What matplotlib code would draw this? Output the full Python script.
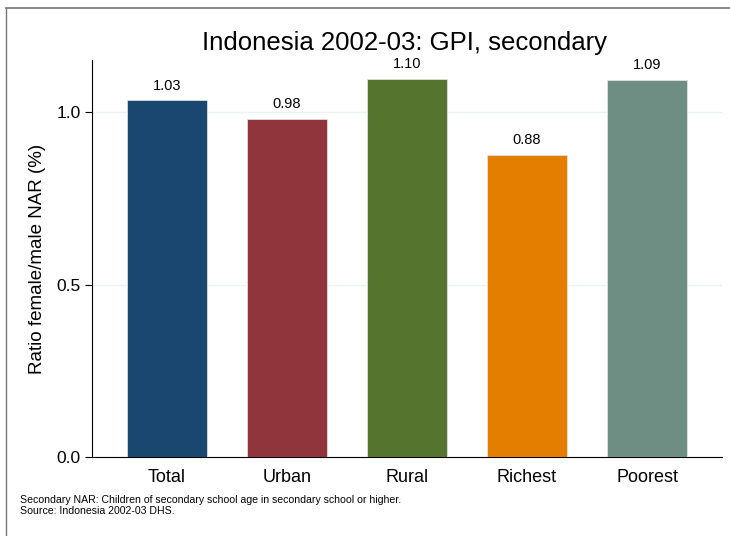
import matplotlib.pyplot as plt
from matplotlib.lines import Line2D

plt.rcParams['font.family'] = ['Liberation Sans', 'DejaVu Sans']

# 数据
categories = ['Total', 'Urban', 'Rural', 'Richest', 'Poorest']
values = [1.034, 0.980, 1.096, 0.877, 1.094]
colors = ['#1a476f', '#90353b', '#55752f', '#e37e00', '#6e8e84']
y_ticks = [0.0, 0.5, 1.0]

fig = plt.figure(figsize=(7.30, 5.36), dpi=100)
ax = fig.add_axes([92 / 730, 1 - 457 / 536, 630 / 730, 397 / 536])

pos = list(range(1, len(categories) + 1))
ax.bar(pos, values, width=0.667, color=colors, edgecolor='#e8e8e8', linewidth=0.5, zorder=3)

# 数值标签
for x, v in zip(pos, values):
    ax.text(x, v + 0.022, f'{v:.2f}', ha='center', va='bottom', fontsize=10.5)

ax.set_xlim(0.375, 5.625)
ax.set_ylim(0, 1.151)
ax.set_xticks(pos)
ax.set_xticklabels(categories, fontsize=13)
ax.set_yticks(y_ticks)
ax.set_yticklabels([f'{t:.1f}' for t in y_ticks], fontsize=12.5)
ax.tick_params(axis='x', length=0, pad=9)
ax.tick_params(axis='y', length=5, width=0.8, pad=3)

# 网格线
ax.yaxis.grid(True, color='#eaf2f3', linewidth=1, zorder=0)
ax.set_axisbelow(True)

for s in ['top', 'right']:
    ax.spines[s].set_visible(False)
ax.spines['left'].set_linewidth(0.8)
ax.spines['bottom'].set_linewidth(0.8)

ax.set_ylabel('Ratio female/male NAR (%)', fontsize=13.5, labelpad=8)
fig.text(405 / 730, 1 - 43 / 536, 'Indonesia 2002-03: GPI, secondary',
         ha='center', va='center', fontsize=18.5)

# 脚注
fig.text(20 / 730, 1 - 500 / 536,
         'Secondary NAR: Children of secondary school age in secondary school or higher.',
         ha='left', va='center', fontsize=7.6)
fig.text(20 / 730, 1 - 511 / 536, 'Source: Indonesia 2002-03 DHS.',
         ha='left', va='center', fontsize=7.6)

# 外框线
fig.add_artist(Line2D([6 / 730, 1], [1 - 8 / 536, 1 - 8 / 536], color='#777777', lw=1.2))
fig.add_artist(Line2D([6 / 730, 6 / 730], [0, 1 - 8 / 536], color='#777777', lw=1.0))

fig.savefig('out.png', dpi=100)
